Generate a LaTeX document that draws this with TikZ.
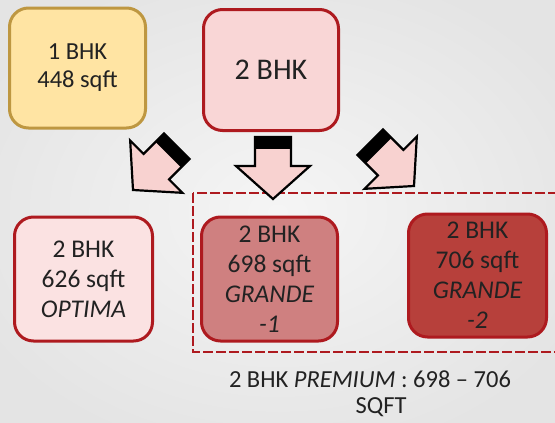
\documentclass[tikz,border=0pt]{standalone}
\usepackage{fontspec}
\setmainfont{Carlito}
\definecolor{txt}{HTML}{222222}
\definecolor{goldfill}{HTML}{FFE4A3}
\definecolor{golddraw}{HTML}{BE9741}
\definecolor{pinkfill}{HTML}{F9D6D6}
\definecolor{redline}{HTML}{AE1A1F}
\definecolor{optfill}{HTML}{FBE2E2}
\definecolor{g1fill}{HTML}{CF8080}
\definecolor{g2fill}{HTML}{B7403B}
\definecolor{arrfill}{HTML}{F8D2D0}
\definecolor{bgin}{HTML}{F5F5F5}
\definecolor{bgout}{HTML}{E4E4E4}
\tikzset{
  roombox/.style={rounded corners=19pt, line width=3pt, text=txt, align=center, inner sep=0pt},
  smalltext/.style={font=\fontsize{24.5}{28}\selectfont},
  lowtext/.style={font=\fontsize{25.5}{30}\selectfont},
  pics/barrow/.style={code={
    \fill[arrfill] (-18,-62) -- (18,-62) -- (18,-33) -- (37,-33) -- (0,0) -- (-37,-33) -- (-18,-33) -- cycle;
    \fill[black] (-18,-62) rectangle (18,-50);
    \draw[black, line width=2.2pt, line join=miter] (-18,-62) -- (18,-62) -- (18,-33) -- (37,-33) -- (0,0) -- (-37,-33) -- (-18,-33) -- cycle;
  }}
}
\begin{document}
\begin{tikzpicture}[x=1pt,y=-1pt]
\useasboundingbox (0,0) rectangle (555,423);
\clip (0,0) rectangle (555,423);
\shade[inner color=bgin, outer color=bgout] (-60,-40) rectangle (615,463);

% dashed premium frame
\draw[redline, line width=1.1pt, dash pattern=on 10pt off 3pt] (193,193) rectangle (600,352);

% boxes
\node[roombox, smalltext, draw=golddraw, fill=goldfill, minimum width=136pt, minimum height=120pt] (b1) at (77.5,68) {1 BHK\\448 sqft};
\node[roombox, draw=redline, fill=pinkfill, minimum width=135pt, minimum height=121pt, font=\fontsize{30}{36}\selectfont] (top) at (271,70) {2 BHK};
\node[roombox, lowtext, draw=redline, fill=optfill, minimum width=138pt, minimum height=124pt] (opt) at (83.5,279) {2 BHK\\626 sqft\\\textit{OPTIMA}};
\node[roombox, lowtext, draw=redline, fill=g1fill, minimum width=136pt, minimum height=124pt] (g1) at (269.5,279) {2 BHK\\698 sqft\\\textit{GRANDE}\\\textit{-1}};
\node[roombox, lowtext, draw=redline, fill=g2fill, minimum width=138pt, minimum height=123pt] (g2) at (477.5,275.5) {2 BHK\\706 sqft\\\textit{GRANDE}\\\textit{-2}};

% block arrows
\pic[rotate=-45] (aleft) at (133,190) {barrow};
\pic (amid) at (273,199) {barrow};
\pic[rotate=45] (aright) at (414,186) {barrow};

% caption
\node[anchor=base, text=txt, font=\fontsize{24.5}{28}\selectfont, inner sep=0pt] (cap1) at (370,387) {2 BHK \textit{PREMIUM} : 698 – 706};
\node[anchor=base, text=txt, font=\fontsize{24.5}{28}\selectfont, inner sep=0pt] (cap2) at (381,413) {SQFT};
\end{tikzpicture}
\end{document}
